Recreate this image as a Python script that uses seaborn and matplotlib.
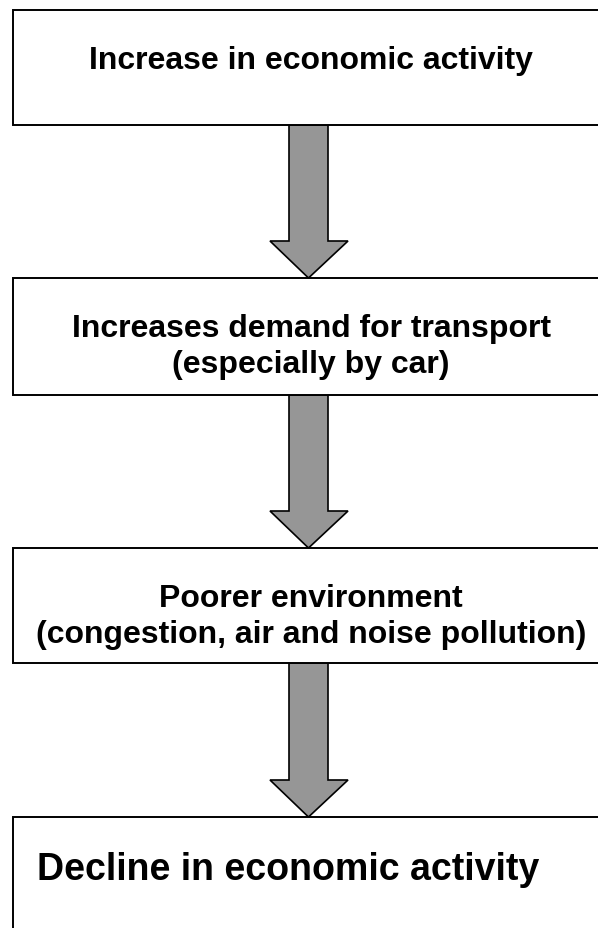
import matplotlib
matplotlib.use("Agg")
import matplotlib.pyplot as plt
from matplotlib.patches import Rectangle, Polygon
import seaborn as sns

# Flowchart content
box_lines = [
    ["Increase in economic activity"],
    ["Increases demand for transport", "(especially by car)"],
    ["Poorer environment", "(congestion, air and noise pollution)"],
    ["Decline in economic activity"],
]

# Layout in pixel units (y grows downward)
box_top = [11, 279, 549, 818]
box_bottom = [126, 396, 664, 990]
line_baselines = [[69], [337, 373], [607, 643], [880]]
font_sizes = [23, 23, 23, 27]
text_x = [311, 311, 311, 37]
text_ha = ["center", "center", "center", "left"]

W, H = 598, 929

sns.set_theme(style="white")
plt.rcParams["font.family"] = ["Liberation Sans", "DejaVu Sans"]

fig = plt.figure(figsize=(W / 100, H / 100), dpi=100)
ax = fig.add_axes([0, 0, 1, 1])
ax.set_xlim(0, W)
ax.set_ylim(H, 0)
ax.axis("off")

# boxes
for top, bottom in zip(box_top, box_bottom):
    ax.add_patch(Rectangle((13, top), 620, bottom - top, facecolor="white",
                           edgecolor="black", lw=1.4, zorder=2))

# arrows between consecutive boxes
cx = 308.5
for i in range(len(box_top) - 1):
    y0 = box_bottom[i]
    y1 = box_top[i + 1]
    yh = y1 - 37
    pts = [(cx - 19.5, y0), (cx + 19.5, y0), (cx + 19.5, yh), (cx + 39.5, yh),
           (cx, y1), (cx - 38.5, yh), (cx - 19.5, yh)]
    ax.add_patch(Polygon(pts, closed=True, facecolor="#969696",
                         edgecolor="black", lw=1.2, joinstyle="miter", zorder=1))

# texts
for lines, ys, fs, x, ha in zip(box_lines, line_baselines, font_sizes, text_x, text_ha):
    for line, y in zip(lines, ys):
        ax.text(x, y, line, ha=ha, va="baseline", fontsize=fs,
                fontweight="bold", color="black", zorder=3)

fig.savefig("out.png", dpi=100)
plt.close(fig)
